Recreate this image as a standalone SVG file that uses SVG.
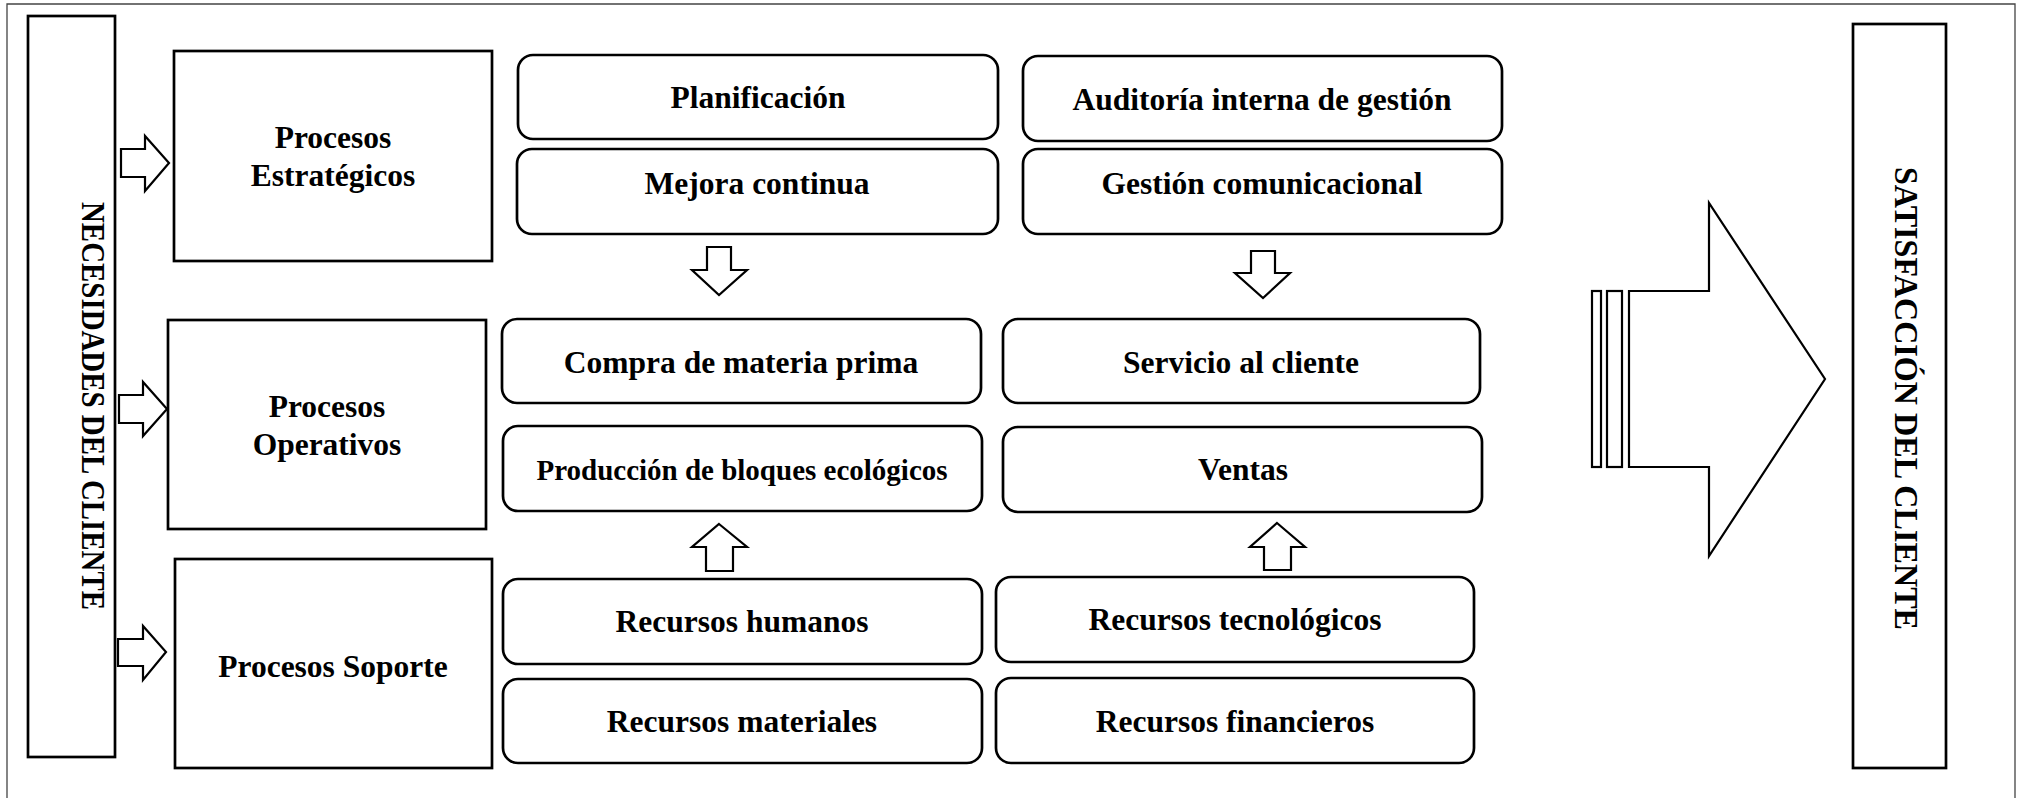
<svg xmlns="http://www.w3.org/2000/svg" width="2025" height="798" viewBox="0 0 2025 798">
<style>
text{font-family:"Liberation Serif","Times New Roman",serif;font-weight:bold;fill:#000;text-anchor:middle}
.frame{fill:none;stroke:#444;stroke-width:1.3}
.box{fill:#fff;stroke:#000;stroke-width:2.7}
.rbox{fill:#fff;stroke:#000;stroke-width:2.7}
.arr{fill:#fff;stroke:#000;stroke-width:2.2;stroke-linejoin:miter}
.t{font-size:31.5px}
.side{font-size:34px}
</style>
<rect width="2025" height="798" fill="#fff"/>
<path class="frame" d="M7,800 V4 H2015 V800"/>

<g id="necesidades">
<rect class="box" x="28" y="16" width="87" height="741"/>
<text class="side" transform="translate(82,406) rotate(90)" textLength="408" lengthAdjust="spacingAndGlyphs">NECESIDADES DEL CLIENTE</text>
</g>

<g id="satisfaccion">
<rect class="box" x="1853" y="24" width="93" height="744"/>
<text class="side" transform="translate(1895,398.5) rotate(90)" textLength="463" lengthAdjust="spacingAndGlyphs">SATISFACCIÓN DEL CLIENTE</text>
</g>

<g id="estrategicos">
<rect class="box" x="174" y="51" width="318" height="210"/>
<text class="t" x="333" y="148">Procesos</text>
<text class="t" x="333" y="186">Estratégicos</text>
</g>
<g id="operativos">
<rect class="box" x="168" y="320" width="318" height="209"/>
<text class="t" x="327" y="417">Procesos</text>
<text class="t" x="327" y="455">Operativos</text>
</g>
<g id="soporte">
<rect class="box" x="175" y="559" width="317" height="209"/>
<text class="t" x="333" y="677">Procesos Soporte</text>
</g>

<g id="planificacion"><rect class="rbox" x="518" y="55" width="480" height="84" rx="15"/><text class="t" x="758" y="108">Planificación</text></g>
<g id="mejora"><rect class="rbox" x="517" y="149" width="481" height="85" rx="15"/><text class="t" x="757" y="194">Mejora continua</text></g>
<g id="auditoria"><rect class="rbox" x="1023" y="56" width="479" height="85" rx="15"/><text class="t" x="1262" y="110">Auditoría interna de gestión</text></g>
<g id="gestion"><rect class="rbox" x="1023" y="149" width="479" height="85" rx="15"/><text class="t" x="1262" y="194">Gestión comunicacional</text></g>
<g id="compra"><rect class="rbox" x="502" y="319" width="479" height="84" rx="15"/><text class="t" x="741" y="373">Compra de materia prima</text></g>
<g id="servicio"><rect class="rbox" x="1003" y="319" width="477" height="84" rx="15"/><text class="t" x="1241" y="373">Servicio al cliente</text></g>
<g id="produccion"><rect class="rbox" x="503" y="426" width="479" height="85" rx="15"/><text x="742" y="480" style="font-size:29px">Producción de bloques ecológicos</text></g>
<g id="ventas"><rect class="rbox" x="1003" y="427" width="479" height="85" rx="15"/><text class="t" x="1243" y="480">Ventas</text></g>
<g id="humanos"><rect class="rbox" x="503" y="579" width="479" height="85" rx="15"/><text class="t" x="742" y="632">Recursos humanos</text></g>
<g id="tecnologicos"><rect class="rbox" x="996" y="577" width="478" height="85" rx="15"/><text class="t" x="1235" y="630">Recursos tecnológicos</text></g>
<g id="materiales"><rect class="rbox" x="503" y="679" width="479" height="84" rx="15"/><text class="t" x="742" y="732">Recursos materiales</text></g>
<g id="financieros"><rect class="rbox" x="996" y="678" width="478" height="85" rx="15"/><text class="t" x="1235" y="732">Recursos financieros</text></g>

<g id="connectors">
<polygon class="arr" points="121,149 145,149 145,136 169,163 145,191 145,177 121,177"/>
<polygon class="arr" points="119,395 143,395 143,382 167,409 143,436 143,423 119,423"/>
<polygon class="arr" points="118,639 143,639 143,626 166,652 143,680 143,666 118,666"/>
<polygon class="arr" points="707,247 731,247 731,270 747,270 719,295 692,270 707,270"/>
<polygon class="arr" points="1251,251 1275,251 1275,273 1290,273 1263,298 1235,273 1251,273"/>
<polygon class="arr" points="719,524 747,547 733,547 733,571 706,571 706,547 692,547"/>
<polygon class="arr" points="1277,523 1305,547 1291,547 1291,570 1264,570 1264,547 1250,547"/>
<rect class="arr" x="1592" y="291" width="9" height="176"/>
<rect class="arr" x="1607" y="291" width="15" height="176"/>
<polygon class="arr" points="1629,291 1709,291 1709,203 1825,379 1709,556 1709,467 1629,467"/>
</g>
</svg>
